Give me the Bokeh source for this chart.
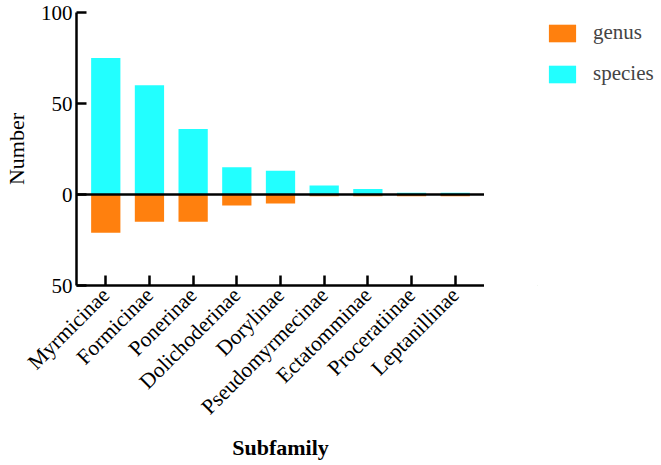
import math
from bokeh.plotting import figure
from bokeh.layouts import row
from bokeh.models import (FactorRange, Range1d, Span, FixedTicker, CustomJSTickFormatter,
                          Legend, LegendItem, ColumnDataSource)
from bokeh.embed import file_html
from bokeh.resources import INLINE

subfamilies = ["Myrmicinae", "Formicinae", "Ponerinae", "Dolichoderinae", "Dorylinae",
               "Pseudomyrmecinae", "Ectatomminae", "Proceratiinae", "Leptanillinae"]
species = [75, 60, 36, 15, 13, 5, 3, 1, 1]
genus = [21, 15, 15, 6, 5, 1, 1, 1, 1]
y_ticks = [-50, 0, 50, 100]

FONT = "Liberation Serif"
ORANGE = "#FF800E"
CYAN = "#22FFFF"

src = ColumnDataSource(dict(
    sub=subfamilies,
    species=species,
    genus_neg=[-g for g in genus],
))

p = figure(width=484, height=465, output_backend="svg", toolbar_location=None,
           x_range=FactorRange(factors=subfamilies, range_padding=0.17,
                               range_padding_units="absolute"),
           y_range=Range1d(-50, 100),
           min_border_left=72, min_border_right=0, min_border_top=12,
           min_border_bottom=180)

r_species = p.vbar(x="sub", top="species", bottom=0, width=0.67, source=src,
                   fill_color=CYAN, line_color=None)
r_genus = p.vbar(x="sub", top=0, bottom="genus_neg", width=0.67, source=src,
                 fill_color=ORANGE, line_color=None)

p.add_layout(Span(location=0, dimension="width", line_color="black", line_width=2.5))

p.outline_line_color = None
p.xgrid.grid_line_color = None
p.ygrid.grid_line_color = None

for ax in (p.xaxis[0], p.yaxis[0]):
    ax.axis_line_width = 2.5
    ax.axis_line_color = "black"
    ax.major_tick_in = 10
    ax.major_tick_out = 0
    ax.major_tick_line_width = 2.5
    ax.major_tick_line_color = "black"
    ax.minor_tick_line_color = None
    ax.major_label_text_font = FONT
    ax.major_label_text_font_size = "21px"
    ax.major_label_text_color = "black"
    ax.axis_label_text_font = FONT
    ax.axis_label_text_font_size = "22px"
    ax.axis_label_text_color = "black"
    ax.axis_label_text_font_style = "normal"

p.yaxis.ticker = FixedTicker(ticks=y_ticks)
p.yaxis.formatter = CustomJSTickFormatter(code="return Math.abs(tick).toString();")
p.yaxis.axis_label = "Number"
p.yaxis.major_label_standoff = 4
p.yaxis.axis_label_standoff = 9

p.xaxis.axis_label = "Subfamily"
p.xaxis.axis_label_text_font_style = "bold"
p.xaxis.major_label_orientation = math.pi / 4
p.xaxis.major_label_text_font_size = "21.5px"
p.xaxis.major_label_standoff = 6
p.xaxis.axis_label_standoff = 4

# legend panel to the right of the chart (swatches only; their bars lie outside the range)
pl = figure(width=177, height=465, output_backend="svg", toolbar_location=None,
            x_range=Range1d(0, 1), y_range=Range1d(0, 1),
            min_border_left=53, min_border_top=12, min_border_right=0,
            min_border_bottom=0)
pl.axis.visible = False
pl.grid.visible = False
pl.outline_line_color = None
swatch = ColumnDataSource(dict(x=[-10], top=[-10]))
lg_genus = pl.vbar(x="x", top="top", width=0.5, source=swatch,
                   fill_color=ORANGE, line_color=None)
lg_species = pl.vbar(x="x", top="top", width=0.5, source=swatch,
                     fill_color=CYAN, line_color=None)

legend = Legend(items=[LegendItem(label="genus", renderers=[lg_genus]),
                       LegendItem(label="species", renderers=[lg_species])],
                location="top_left", padding=0, margin=8, spacing=16,
                glyph_width=34, glyph_height=22, label_height=22,
                label_standoff=14, label_text_font=FONT,
                label_text_font_size="21px", border_line_color=None,
                background_fill_alpha=0)
pl.add_layout(legend)

layout = row(p, pl, spacing=0)

open("out.html", "w").write(file_html(layout, INLINE))
